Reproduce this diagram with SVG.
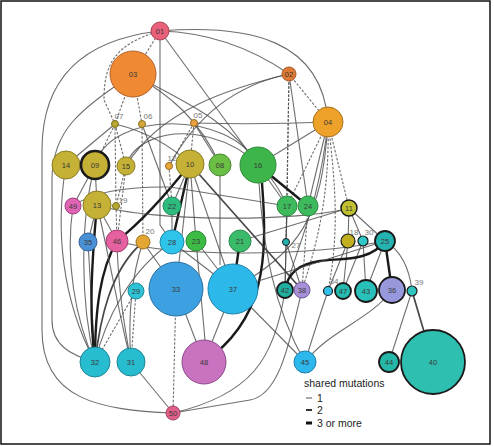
<svg xmlns="http://www.w3.org/2000/svg" width="494" height="446" viewBox="0 0 494 446">
<style>
.e{fill:none;stroke:#4a4a4a;stroke-width:1.1;stroke-opacity:0.8}
.d{stroke-dasharray:2.5 1.6}
.m{stroke:#333;stroke-width:1.7;stroke-opacity:0.9}
.t{stroke:#1a1a1a;stroke-width:2.4;stroke-opacity:1}
.n{stroke-width:1}
.k{stroke:#1a1a1a;stroke-width:1.8}
.lb{font-family:"Liberation Sans",Arial,sans-serif;font-size:7.5px;fill:#3a3a3a;text-anchor:middle;dominant-baseline:central}
.sl{font-family:"Liberation Sans",Arial,sans-serif;font-size:8px;fill:#777;text-anchor:middle;dominant-baseline:central}
.lg{font-family:"Liberation Sans",Arial,sans-serif;font-size:10.5px;fill:#222}
</style>
<rect x="1" y="1" width="489" height="443" fill="#fff" stroke="#111" stroke-width="1.5"/>
<g id="connectors">
<path class="e" d="M160,31 Q230,33 289,74"/>
<path class="e" d="M160,31 C250,24 322,40 328,122"/>
<path class="e" d="M160,31 L258,165"/>
<path class="e" d="M160,31 L160,225 L172,242"/>
<path class="e" d="M160,31 C80,40 42,80 42,150 L42,330 C42,400 100,410 173,413"/>
<path class="e d" d="M160,31 L133,74"/>
<path class="e d" d="M160,31 C110,45 104,70 104,100 L115,124"/>
<path class="e" d="M133,74 C80,110 52,130 52,180 L52,320 C52,345 70,355 95,362"/>
<path class="e d" d="M133,74 L142,124"/>
<path class="e d" d="M133,74 L115,124"/>
<path class="e" d="M133,74 C180,100 230,120 258,165"/>
<path class="e" d="M133,74 C170,95 200,120 220,165"/>
<path class="e" d="M289,74 Q210,90 169,166"/>
<path class="e" d="M289,74 C230,88 160,110 126,166"/>
<path class="e d" d="M289,74 L328,122"/>
<path class="e d" d="M289,74 L287,206"/>
<path class="e" d="M289,74 L308,206"/>
<path class="e d" d="M289,74 L286,242"/>
<path class="e" d="M115,124 L66,165"/>
<path class="e d" d="M115,124 L95,165"/>
<path class="e d" d="M115,124 L126,166"/>
<path class="e" d="M115,124 Q160,135 190,164"/>
<path class="e d" d="M115,124 L116,206"/>
<path class="e d" d="M142,124 L143,242"/>
<path class="e" d="M142,124 L172,206"/>
<path class="e d" d="M194,123 L190,164"/>
<path class="e" d="M194,123 L220,165"/>
<path class="e" d="M194,123 Q260,125 328,122"/>
<path class="e d" d="M194,123 L169,166"/>
<path class="e" d="M95,165 C110,110 230,110 258,165"/>
<path class="e" d="M126,166 C140,118 250,118 287,206"/>
<path class="e" d="M328,122 L258,165"/>
<path class="e d" d="M328,122 L287,206"/>
<path class="e" d="M328,122 L308,206"/>
<path class="e d" d="M328,122 L349,208"/>
<path class="e d" d="M328,122 C335,180 340,230 328,291"/>
<path class="e" d="M328,122 C322,220 300,250 233,289"/>
<path class="e" d="M328,122 C320,200 300,240 285,290"/>
<path class="e d" d="M328,122 C330,200 315,250 302,290"/>
<path class="e t" d="M258,165 L308,206"/>
<path class="e" d="M258,165 L287,206"/>
<path class="e t" d="M262,183 C268,260 265,320 204,362"/>
<path class="e" d="M258,165 C262,250 275,310 305,362"/>
<path class="e t" d="M190,164 L172,242"/>
<path class="e" d="M190,164 L172,206"/>
<path class="e" d="M190,164 L196,241"/>
<path class="e t" d="M117,241 Q150,215 190,164"/>
<path class="e m" d="M190,164 L302,290"/>
<path class="e" d="M190,164 L176,289"/>
<path class="e" d="M190,164 L233,289"/>
<path class="e" d="M220,165 L220,265"/>
<path class="e" d="M95,165 L97,205"/>
<path class="e" d="M95,165 L73,206"/>
<path class="e d" d="M126,166 L117,241"/>
<path class="e d" d="M126,166 L116,206"/>
<path class="e" d="M73,206 Q100,186 170,187 L287,206"/>
<path class="e" d="M349,208 C300,222 150,222 97,205"/>
<path class="e" d="M385,241 C300,258 170,256 117,241"/>
<path class="e" d="M97,205 L88,242"/>
<path class="e" d="M97,205 L117,241"/>
<path class="e d" d="M116,206 L117,241"/>
<path class="e d" d="M169,166 L172,206"/>
<path class="e" d="M66,165 C55,230 62,300 95,362"/>
<path class="e" d="M73,206 C65,260 75,320 95,362"/>
<path class="e" d="M88,242 L95,362"/>
<path class="e" d="M95,165 C80,220 80,300 95,362"/>
<path class="e t" d="M97,205 C90,280 90,320 95,362"/>
<path class="e t" d="M117,241 C100,270 95,310 95,362"/>
<path class="e m" d="M143,242 C110,270 100,320 95,362"/>
<path class="e" d="M172,242 C130,270 105,320 95,362"/>
<path class="e d" d="M136,291 L95,362"/>
<path class="e" d="M143,242 C130,280 128,320 131,362"/>
<path class="e" d="M117,241 C118,290 125,330 131,362"/>
<path class="e d" d="M136,291 L131,362"/>
<path class="e" d="M97,205 C110,260 120,320 131,362"/>
<path class="e" d="M143,242 L176,289"/>
<path class="e" d="M172,242 L233,289"/>
<path class="e" d="M172,206 L172,242"/>
<path class="e" d="M196,241 L205,340"/>
<path class="e" d="M196,241 L233,289"/>
<path class="e t" d="M240,241 L233,289"/>
<path class="e d" d="M176,289 L173,413"/>
<path class="e" d="M176,289 L204,362"/>
<path class="e" d="M233,289 L204,362"/>
<path class="e" d="M233,289 L305,362"/>
<path class="e" d="M131,362 L173,413"/>
<path class="e" d="M302,290 C290,340 280,395 250,400 L173,413"/>
<path class="e" d="M285,290 C275,360 250,395 173,413"/>
<path class="e" d="M328,291 Q318,320 305,362"/>
<path class="e" d="M392,290 C370,320 330,330 305,362"/>
<path class="e" d="M349,208 L348,241"/>
<path class="e" d="M349,208 L363,241"/>
<path class="e" d="M349,208 L385,241"/>
<path class="e" d="M349,208 L240,241"/>
<path class="e" d="M348,241 L328,291"/>
<path class="e" d="M348,241 L343,291"/>
<path class="e" d="M363,241 L366,291"/>
<path class="e" d="M363,241 L343,291"/>
<path class="e" d="M385,241 L366,291"/>
<path class="e t" d="M385,241 L392,290"/>
<path class="e t" d="M385,241 C370,262 340,258 320,261 C300,264 288,272 285,290"/>
<path class="e" d="M385,241 Q408,255 412,291"/>
<path class="e" d="M412,291 L389,362"/>
<path class="e m" d="M412,291 L433,362"/>
<path class="e" d="M286,242 L285,290"/>
<path class="e" d="M286,242 L302,290"/>
<path class="e" d="M287,206 L285,290"/>
<path class="e d" d="M308,206 L302,290"/>
<path class="e" d="M287,206 L286,242"/>
<path class="e" d="M233,289 L385,241"/>
</g>
<g id="n01"><circle class="n" cx="160" cy="31" r="9" fill="#e8607a" stroke="#a8404f"/><text class="lb" x="160" y="31">01</text></g>
<g id="n03"><circle class="n" cx="133" cy="74" r="23" fill="#ef8a33" stroke="#b0602a"/><text class="lb" x="133" y="74">03</text></g>
<g id="n02"><circle class="n" cx="289" cy="74" r="7" fill="#e07b35" stroke="#a05525"/><text class="lb" x="289" y="74">02</text></g>
<g id="n04"><circle class="n" cx="328" cy="122" r="15" fill="#eda128" stroke="#a87020"/><text class="lb" x="328" y="122">04</text></g>
<g id="n07"><circle class="n" cx="115" cy="124" r="3.5" fill="#b8a832" stroke="#7a7020"/><text class="sl" x="119" y="116">07</text></g>
<g id="n06"><circle class="n" cx="142" cy="124" r="3.5" fill="#d4a83a" stroke="#8a7020"/><text class="sl" x="148" y="116">06</text></g>
<g id="n05"><circle class="n" cx="194" cy="123" r="3.5" fill="#e8a040" stroke="#9a6a20"/><text class="sl" x="198" y="115">05</text></g>
<g id="n14"><circle class="n" cx="66" cy="165" r="14" fill="#c4b135" stroke="#8a7c25"/><text class="lb" x="66" y="165">14</text></g>
<g id="n09"><circle cx="95" cy="165" r="14" fill="#c4b135" stroke="#1a1a1a" stroke-width="2.6"/><text class="lb" x="95" y="165">09</text></g>
<g id="n15"><circle class="n" cx="126" cy="166" r="9" fill="#c4b135" stroke="#8a7c25"/><text class="lb" x="126" y="166">15</text></g>
<g id="n12"><circle class="n" cx="169" cy="166" r="3.5" fill="#e8a838" stroke="#9a6a20"/><text class="sl" x="172" y="158">12</text></g>
<g id="n10"><circle class="n" cx="190" cy="164" r="14" fill="#c4b135" stroke="#8a7c25"/><text class="lb" x="190" y="164">10</text></g>
<g id="n08"><circle class="n" cx="220" cy="165" r="11" fill="#6bbf45" stroke="#4a8a30"/><text class="lb" x="220" y="165">08</text></g>
<g id="n16"><circle class="n" cx="258" cy="165" r="18" fill="#3db54a" stroke="#2a8a35"/><text class="lb" x="258" y="165">16</text></g>
<g id="n49"><circle class="n" cx="73" cy="206" r="8" fill="#e064b4" stroke="#a04080"/><text class="lb" x="73" y="206">49</text></g>
<g id="n13"><circle class="n" cx="97" cy="205" r="14" fill="#c4b135" stroke="#8a7c25"/><text class="lb" x="97" y="205">13</text></g>
<g id="n19"><circle class="n" cx="116" cy="206" r="3.5" fill="#b8a832" stroke="#7a7020"/><text class="sl" x="123" y="200" fill="#8a80a8">19</text></g>
<g id="n22"><circle class="n" cx="172" cy="206" r="9" fill="#2ebc7e" stroke="#1f8a5a"/><text class="lb" x="172" y="206">22</text></g>
<g id="n17"><circle class="n" cx="287" cy="206" r="10" fill="#3dbb5c" stroke="#2a8a40"/><text class="lb" x="287" y="206">17</text></g>
<g id="n24"><circle class="n" cx="308" cy="206" r="10" fill="#3dbb5c" stroke="#2a8a40"/><text class="lb" x="308" y="206">24</text></g>
<g id="n11"><circle cx="349" cy="208" r="8" fill="#c0c030" stroke="#1a1a1a" stroke-width="1.5"/><text class="lb" x="349" y="208">11</text></g>
<g id="n35"><circle class="n" cx="88" cy="242" r="9" fill="#4a90d6" stroke="#30609a"/><text class="lb" x="88" y="242">35</text></g>
<g id="n46"><circle class="n" cx="117" cy="241" r="11" fill="#e5609f" stroke="#a04070"/><text class="lb" x="117" y="241">46</text></g>
<g id="n20"><circle class="n" cx="143" cy="242" r="7" fill="#e3a632" stroke="#9a7020"/><text class="sl" x="150" y="231">20</text></g>
<g id="n28"><circle class="n" cx="172" cy="242" r="12" fill="#2ec4ea" stroke="#2088a8"/><text class="lb" x="172" y="242">28</text></g>
<g id="n23"><circle class="n" cx="196" cy="241" r="10" fill="#3cbb45" stroke="#2a8a30"/><text class="lb" x="196" y="241">23</text></g>
<g id="n21"><circle class="n" cx="240" cy="241" r="11" fill="#3abb6a" stroke="#2a8a4a"/><text class="lb" x="240" y="241">21</text></g>
<g id="n27"><circle class="n" cx="286" cy="242" r="3.5" fill="#25b0b0" stroke="#1a1a1a"/><text class="sl" x="296" y="245">27</text></g>
<g id="n18"><circle cx="348" cy="241" r="7" fill="#c0b020" stroke="#1a1a1a" stroke-width="1.2"/><text class="sl" x="354" y="232">18</text></g>
<g id="n30"><circle cx="363" cy="241" r="5" fill="#30c8c8" stroke="#1a1a1a" stroke-width="1.2"/><text class="sl" x="369" y="232">30</text></g>
<g id="n25"><circle class="k" cx="385" cy="241" r="10" fill="#25b3b0"/><text class="lb" x="385" y="241">25</text></g>
<g id="n29"><circle class="n" cx="136" cy="291" r="8" fill="#2ec2d6" stroke="#20889a"/><text class="lb" x="136" y="291">29</text></g>
<g id="n33"><circle class="n" cx="176" cy="289" r="27" fill="#3da0e0" stroke="#2a70a0"/><text class="lb" x="176" y="289">33</text></g>
<g id="n37"><circle class="n" cx="233" cy="289" r="25" fill="#2cb9ea" stroke="#2080a8"/><text class="lb" x="233" y="289">37</text></g>
<g id="n42"><circle class="k" cx="285" cy="290" r="8" fill="#20b0a0"/><text class="lb" x="285" y="290">42</text></g>
<g id="n38"><circle class="n" cx="302" cy="290" r="8" fill="#a890d8" stroke="#705a9a"/><text class="lb" x="302" y="290">38</text></g>
<g id="n34"><circle cx="328" cy="291" r="4.5" fill="#30c0e8" stroke="#1a1a1a" stroke-width="1.2"/><text class="sl" x="334" y="281">34</text></g>
<g id="n47"><circle class="k" cx="343" cy="291" r="8" fill="#25bbb0"/><text class="lb" x="343" y="291">47</text></g>
<g id="n43"><circle class="k" cx="366" cy="291" r="11" fill="#28c0b8"/><text class="lb" x="366" y="291">43</text></g>
<g id="n36"><circle class="k" cx="392" cy="290" r="13" fill="#9898dc"/><text class="lb" x="392" y="290">36</text></g>
<g id="n39"><circle cx="412" cy="291" r="5" fill="#30c4c0" stroke="#1a1a1a" stroke-width="1.2"/><text class="sl" x="419" y="282">39</text></g>
<g id="n32"><circle class="n" cx="95" cy="362" r="15" fill="#28bcd0" stroke="#1f8494"/><text class="lb" x="95" y="362">32</text></g>
<g id="n31"><circle class="n" cx="131" cy="362" r="14" fill="#28bcd0" stroke="#1f8494"/><text class="lb" x="131" y="362">31</text></g>
<g id="n48"><circle class="n" cx="204" cy="362" r="22" fill="#c872c0" stroke="#8a4a88"/><text class="lb" x="204" y="362">48</text></g>
<g id="n45"><circle class="n" cx="305" cy="362" r="11" fill="#2cb8ec" stroke="#2080a8"/><text class="lb" x="305" y="362">45</text></g>
<g id="n44"><circle class="k" cx="389" cy="362" r="10" fill="#25b8a8"/><text class="lb" x="389" y="362">44</text></g>
<g id="n40"><circle class="k" cx="433" cy="362" r="32" fill="#2ebfb0"/><text class="lb" x="433" y="362">40</text></g>
<g id="n50"><circle class="n" cx="173" cy="413" r="7" fill="#e0608a" stroke="#a04060"/><text class="lb" x="173" y="413">50</text></g>
<g id="legend">
<text class="lg" x="304" y="387">shared mutations</text>
<line x1="306" y1="398" x2="312" y2="398" stroke="#555" stroke-width="1"/>
<text class="lg" x="317" y="402">1</text>
<line x1="306" y1="410" x2="312" y2="410" stroke="#333" stroke-width="2"/>
<text class="lg" x="317" y="414">2</text>
<line x1="306" y1="423" x2="312" y2="423" stroke="#111" stroke-width="3"/>
<text class="lg" x="317" y="427">3 or more</text>
</g>
</svg>
